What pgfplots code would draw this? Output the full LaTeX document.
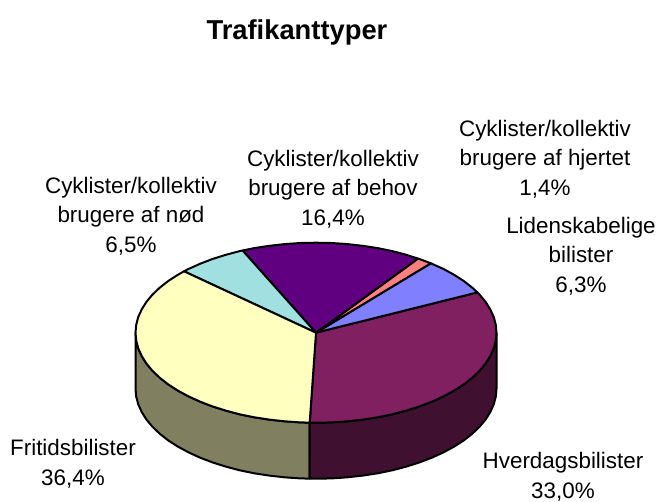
\documentclass[border=0pt]{standalone}
\usepackage{fontspec}
\setmainfont{Liberation Sans}
\usepackage{pgfplots}
\pgfplotsset{compat=1.18}

\definecolor{side1}{HTML}{808060}
\definecolor{side2}{HTML}{401030}
\definecolor{burg}{HTML}{802060}
\definecolor{lblue}{HTML}{8080FF}
\definecolor{pinkish}{HTML}{FF8080}
\definecolor{purp}{HTML}{600080}
\definecolor{cyanish}{HTML}{A0E0E0}
\definecolor{yel}{HTML}{FFFFC0}
\tikzset{lab/.style={font=\fontsize{16.8}{22.2pt}\selectfont, align=center, anchor=center, inner sep=0pt, text=black}}

\begin{document}
\begin{tikzpicture}
\begin{axis}[
    scale only axis,
    width=493.5pt, height=375pt,
    xmin=0, xmax=658,
    ymin=0, ymax=500,
    y dir=reverse,
    axis lines=none,
    clip=false,
    every axis plot/.append style={draw=black, line width=1.5pt, line join=round, mark=none},
]
% keep the whole canvas in the page
\path (rel axis cs:0,0) rectangle (rel axis cs:1,1);

% side walls
\addplot[fill=side1] coordinates {(135.5,332.7) (136.2,340.5) (138.2,348.3) (141.7,356.0) (146.4,363.5) (152.4,370.7) (159.7,377.7) (168.1,384.3) (177.7,390.5) (188.4,396.3) (200.0,401.6) (212.5,406.4) (225.8,410.6) (239.7,414.3) (254.3,417.3) (269.3,419.6) (284.7,421.3) (300.3,422.4) (309.7,422.6)
 (309.7,478.6) (300.3,478.4) (284.7,477.3) (269.3,475.6) (254.3,473.3) (239.7,470.3) (225.8,466.6) (212.5,462.4) (200.0,457.6) (188.4,452.3) (177.7,446.5) (168.1,440.3) (159.7,433.7) (152.4,426.7) (146.4,419.5) (141.7,412.0) (138.2,404.3) (136.2,396.5) (135.5,388.7)} --cycle;
\addplot[fill=side2] coordinates {(309.7,422.6) (316,422.7) (331.7,422.4) (347.3,421.3) (362.7,419.6) (377.7,417.3) (392.3,414.3) (406.3,410.6) (419.5,406.4) (432.0,401.6) (443.6,396.3) (454.3,390.5) (463.9,384.3) (472.3,377.7) (479.6,370.7) (485.6,363.5) (490.3,356.0) (493.8,348.3) (495.8,340.5) (496.5,332.7)
 (496.5,388.7) (495.8,396.5) (493.8,404.3) (490.3,412.0) (485.6,419.5) (479.6,426.7) (472.3,433.7) (463.9,440.3) (454.3,446.5) (443.6,452.3) (432.0,457.6) (419.5,462.4) (406.3,466.6) (392.3,470.3) (377.7,473.3) (362.7,475.6) (347.3,477.3) (331.7,478.4) (316,478.7) (309.7,478.6)} --cycle;

% top slices
\addplot[fill=burg] coordinates {(316,332.7) (477.4,292.4) (479.6,294.7) (485.6,301.9) (490.3,309.4) (493.8,317.1) (495.8,324.9) (496.5,332.7) (495.8,340.5) (493.8,348.3) (490.3,356.0) (485.6,363.5) (479.6,370.7) (472.3,377.7) (463.9,384.3) (454.3,390.5) (443.6,396.3) (432.0,401.6) (419.5,406.4) (406.3,410.6) (392.3,414.3) (377.7,417.3) (362.7,419.6) (347.3,421.3) (331.7,422.4) (316,422.7) (309.7,422.6)} --cycle;
\addplot[fill=lblue] coordinates {(316,332.7) (477.4,292.4) (472.3,287.7) (463.9,281.1) (454.3,274.9) (443.6,269.0) (432.0,263.8) (430.8,263.3)} --cycle;
\addplot[fill=pinkish] coordinates {(316,332.7) (430.8,263.3) (419.5,259.0) (418,258.6)} --cycle;
\addplot[fill=purp] coordinates {(316,332.7) (418,258.6) (406.3,254.8) (392.3,251.1) (377.7,248.1) (362.7,245.8) (347.3,244.1) (331.7,243.0) (316,242.7) (300.3,243.0) (284.7,244.1) (269.3,245.8) (254.3,248.1) (242.6,250.5)} --cycle;
\addplot[fill=cyanish] coordinates {(316,332.7) (242.6,250.5) (239.7,251.1) (225.8,254.8) (212.5,259.0) (200.0,263.8) (188.4,269.0) (184,271.3)} --cycle;
\addplot[fill=yel] coordinates {(316,332.7) (184,271.3) (177.7,274.9) (168.1,281.1) (159.7,287.7) (152.4,294.7) (146.4,301.9) (141.7,309.4) (138.2,317.1) (136.2,324.9) (135.5,332.7) (136.2,340.5) (138.2,348.3) (141.7,356.0) (146.4,363.5) (152.4,370.7) (159.7,377.7) (168.1,384.3) (177.7,390.5) (188.4,396.3) (200.0,401.6) (212.5,406.4) (225.8,410.6) (239.7,414.3) (254.3,417.3) (269.3,419.6) (284.7,421.3) (300.3,422.4) (309.7,422.6)} --cycle;

% labels
\node[lab, font=\fontsize{20.5}{22pt}\selectfont\bfseries] at (axis cs:297,32) {Trafikanttyper};
\node[lab] at (axis cs:545,159) {Cyklister/kollektiv\\brugere af hjertet\\1,4\%};
\node[lab] at (axis cs:581,256) {Lidenskabelige\\bilister\\6,3\%};
\node[lab] at (axis cs:563,477) {Hverdagsbilister\\33,0\%};
\node[lab] at (axis cs:73,464) {Fritidsbilister\\36,4\%};
\node[lab] at (axis cs:131,216) {Cyklister/kollektiv\\brugere af nød\\6,5\%};
\node[lab] at (axis cs:333,189) {Cyklister/kollektiv\\brugere af behov\\16,4\%};

\end{axis}
\end{tikzpicture}
\end{document}
